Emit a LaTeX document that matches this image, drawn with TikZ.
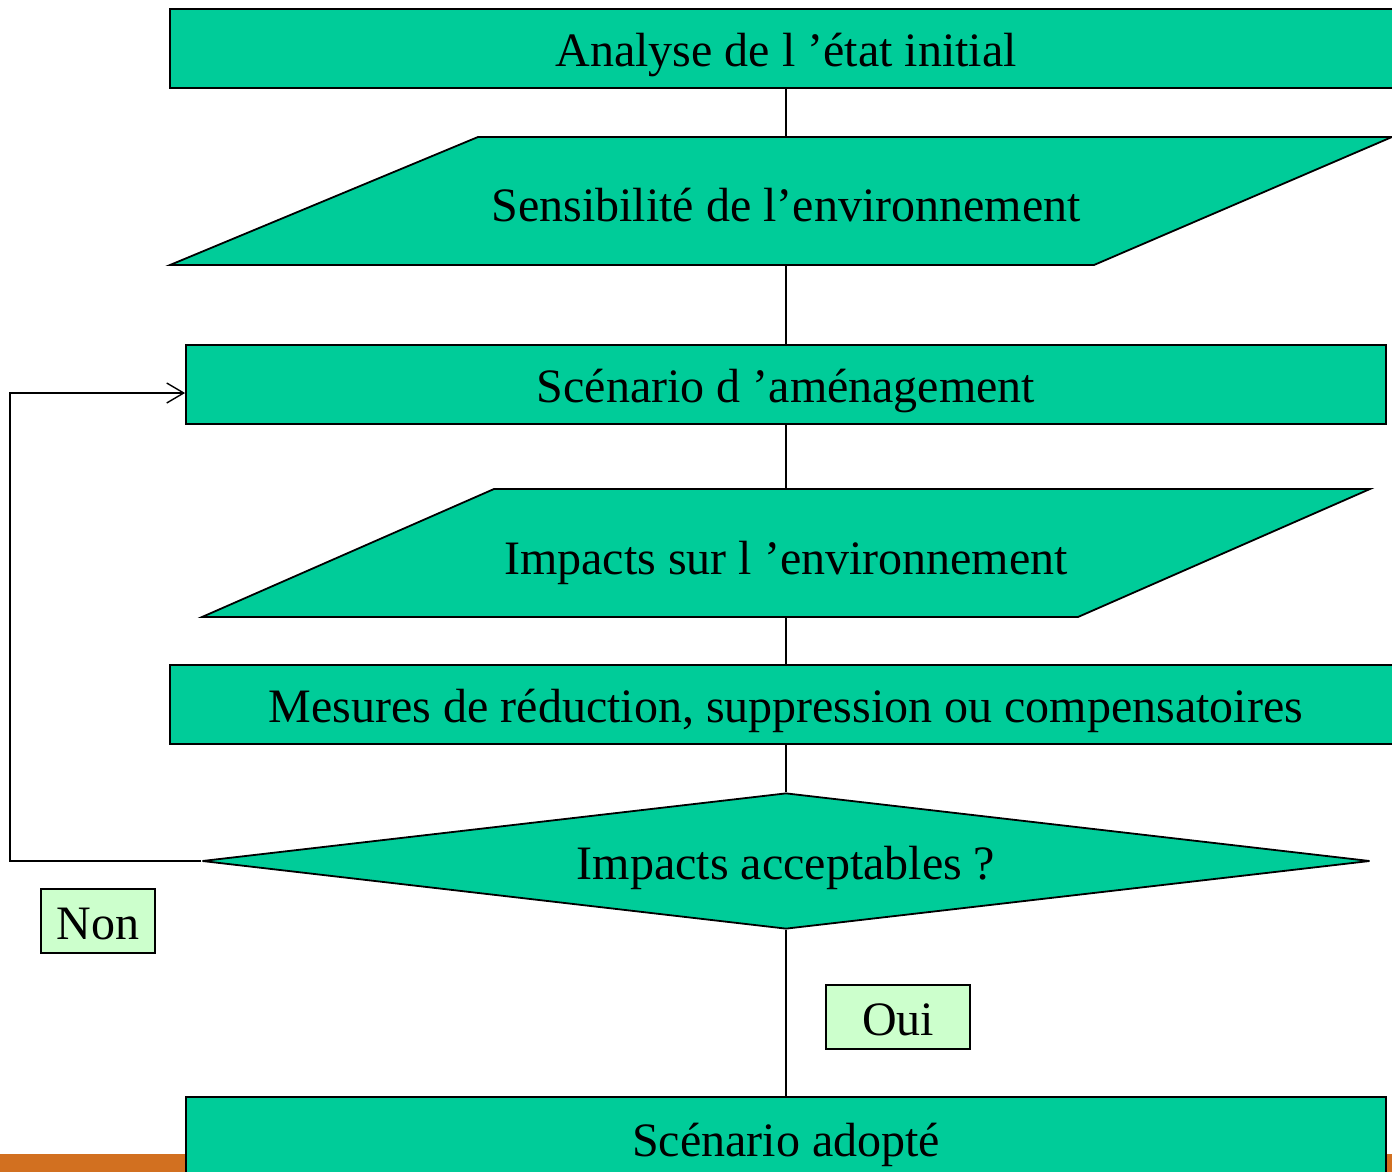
\documentclass[tikz,border=0pt]{standalone}
\usepackage{fontspec}
\setmainfont{Liberation Serif}
\usetikzlibrary{shapes.geometric,arrows.meta}
\pgfdeclarelayer{background}
\pgfsetlayers{background,main}

\definecolor{stepgreen}{RGB}{0,204,153}
\definecolor{answergreen}{RGB}{204,255,204}
\definecolor{bandorange}{RGB}{210,112,32}

\tikzset{
  txt/.style={text height=18pt, text depth=0pt},
  box/.style={txt, draw=black, fill=stepgreen, line width=0.9pt, inner sep=0pt,
              minimum height=39.5pt},
  para/.style={draw=black, fill=stepgreen, line width=0.9pt},
  decision/.style={txt, diamond, aspect=8.59, draw=black, fill=stepgreen,
                   line width=0.9pt, inner sep=0pt,
                   minimum width=584pt, minimum height=68pt},
  answer/.style={txt, draw=black, fill=answergreen, line width=0.7pt, inner sep=0pt,
                 minimum height=32pt},
  label/.style={txt, inner sep=0pt},
  link/.style={line width=0.9pt}
}

\begin{document}
\begin{tikzpicture}[x=0.5pt,y=-0.5pt]
\fontsize{24}{28}\selectfont
\useasboundingbox (0,0) rectangle (1392,1172);

  % bande du bas
  \fill[bandorange] (0,1154) rectangle (1400,1180);

  \node[box, minimum width=616pt] (etat) at (786,48.5) {Analyse de l ’état initial};

  \filldraw[para] (170,265) -- (478,137) -- (1392,137) -- (1094,265) -- cycle;
  \node[label] (sensib) at (786,203) {Sensibilité de l’environnement};

  \node[box, minimum width=600pt] (scenario) at (786,384.5) {Scénario d ’aménagement};

  \filldraw[para] (202,617) -- (494,489) -- (1370,489) -- (1078,617) -- cycle;
  \node[label] (impacts) at (786,556) {Impacts sur l ’environnement};

  \node[box, minimum width=616pt] (mesures) at (786,704.5)
       {Mesures de réduction, suppression ou compensatoires};

  \node[decision, miter limit=4] (accept) at (786,861) {Impacts acceptables ?};

  \node[answer, minimum width=57pt] (non) at (98,921) {Non};
  \node[answer, minimum width=72pt] (oui) at (898,1017) {Oui};

  \node[box, minimum width=600pt, minimum height=41.5pt] (adopte) at (786,1138.5)
       {Scénario adopté};

  \coordinate (retour) at (10,393);

  \begin{pgfonlayer}{background}
    \draw[link] (etat) -- (sensib);
    \draw[link] (sensib) -- (scenario);
    \draw[link] (scenario) -- (impacts);
    \draw[link] (impacts) -- (mesures);
    \draw[link] (mesures) -- (accept);
    \draw[link] (accept) -- (adopte);
  \end{pgfonlayer}

  \draw[link, line width=0.7pt, -{Straight Barb[length=8.5pt,width=10pt]}]
       (accept.west) -| (retour) -- ([yshift=-4.25pt]scenario.west);

\end{tikzpicture}
\end{document}
